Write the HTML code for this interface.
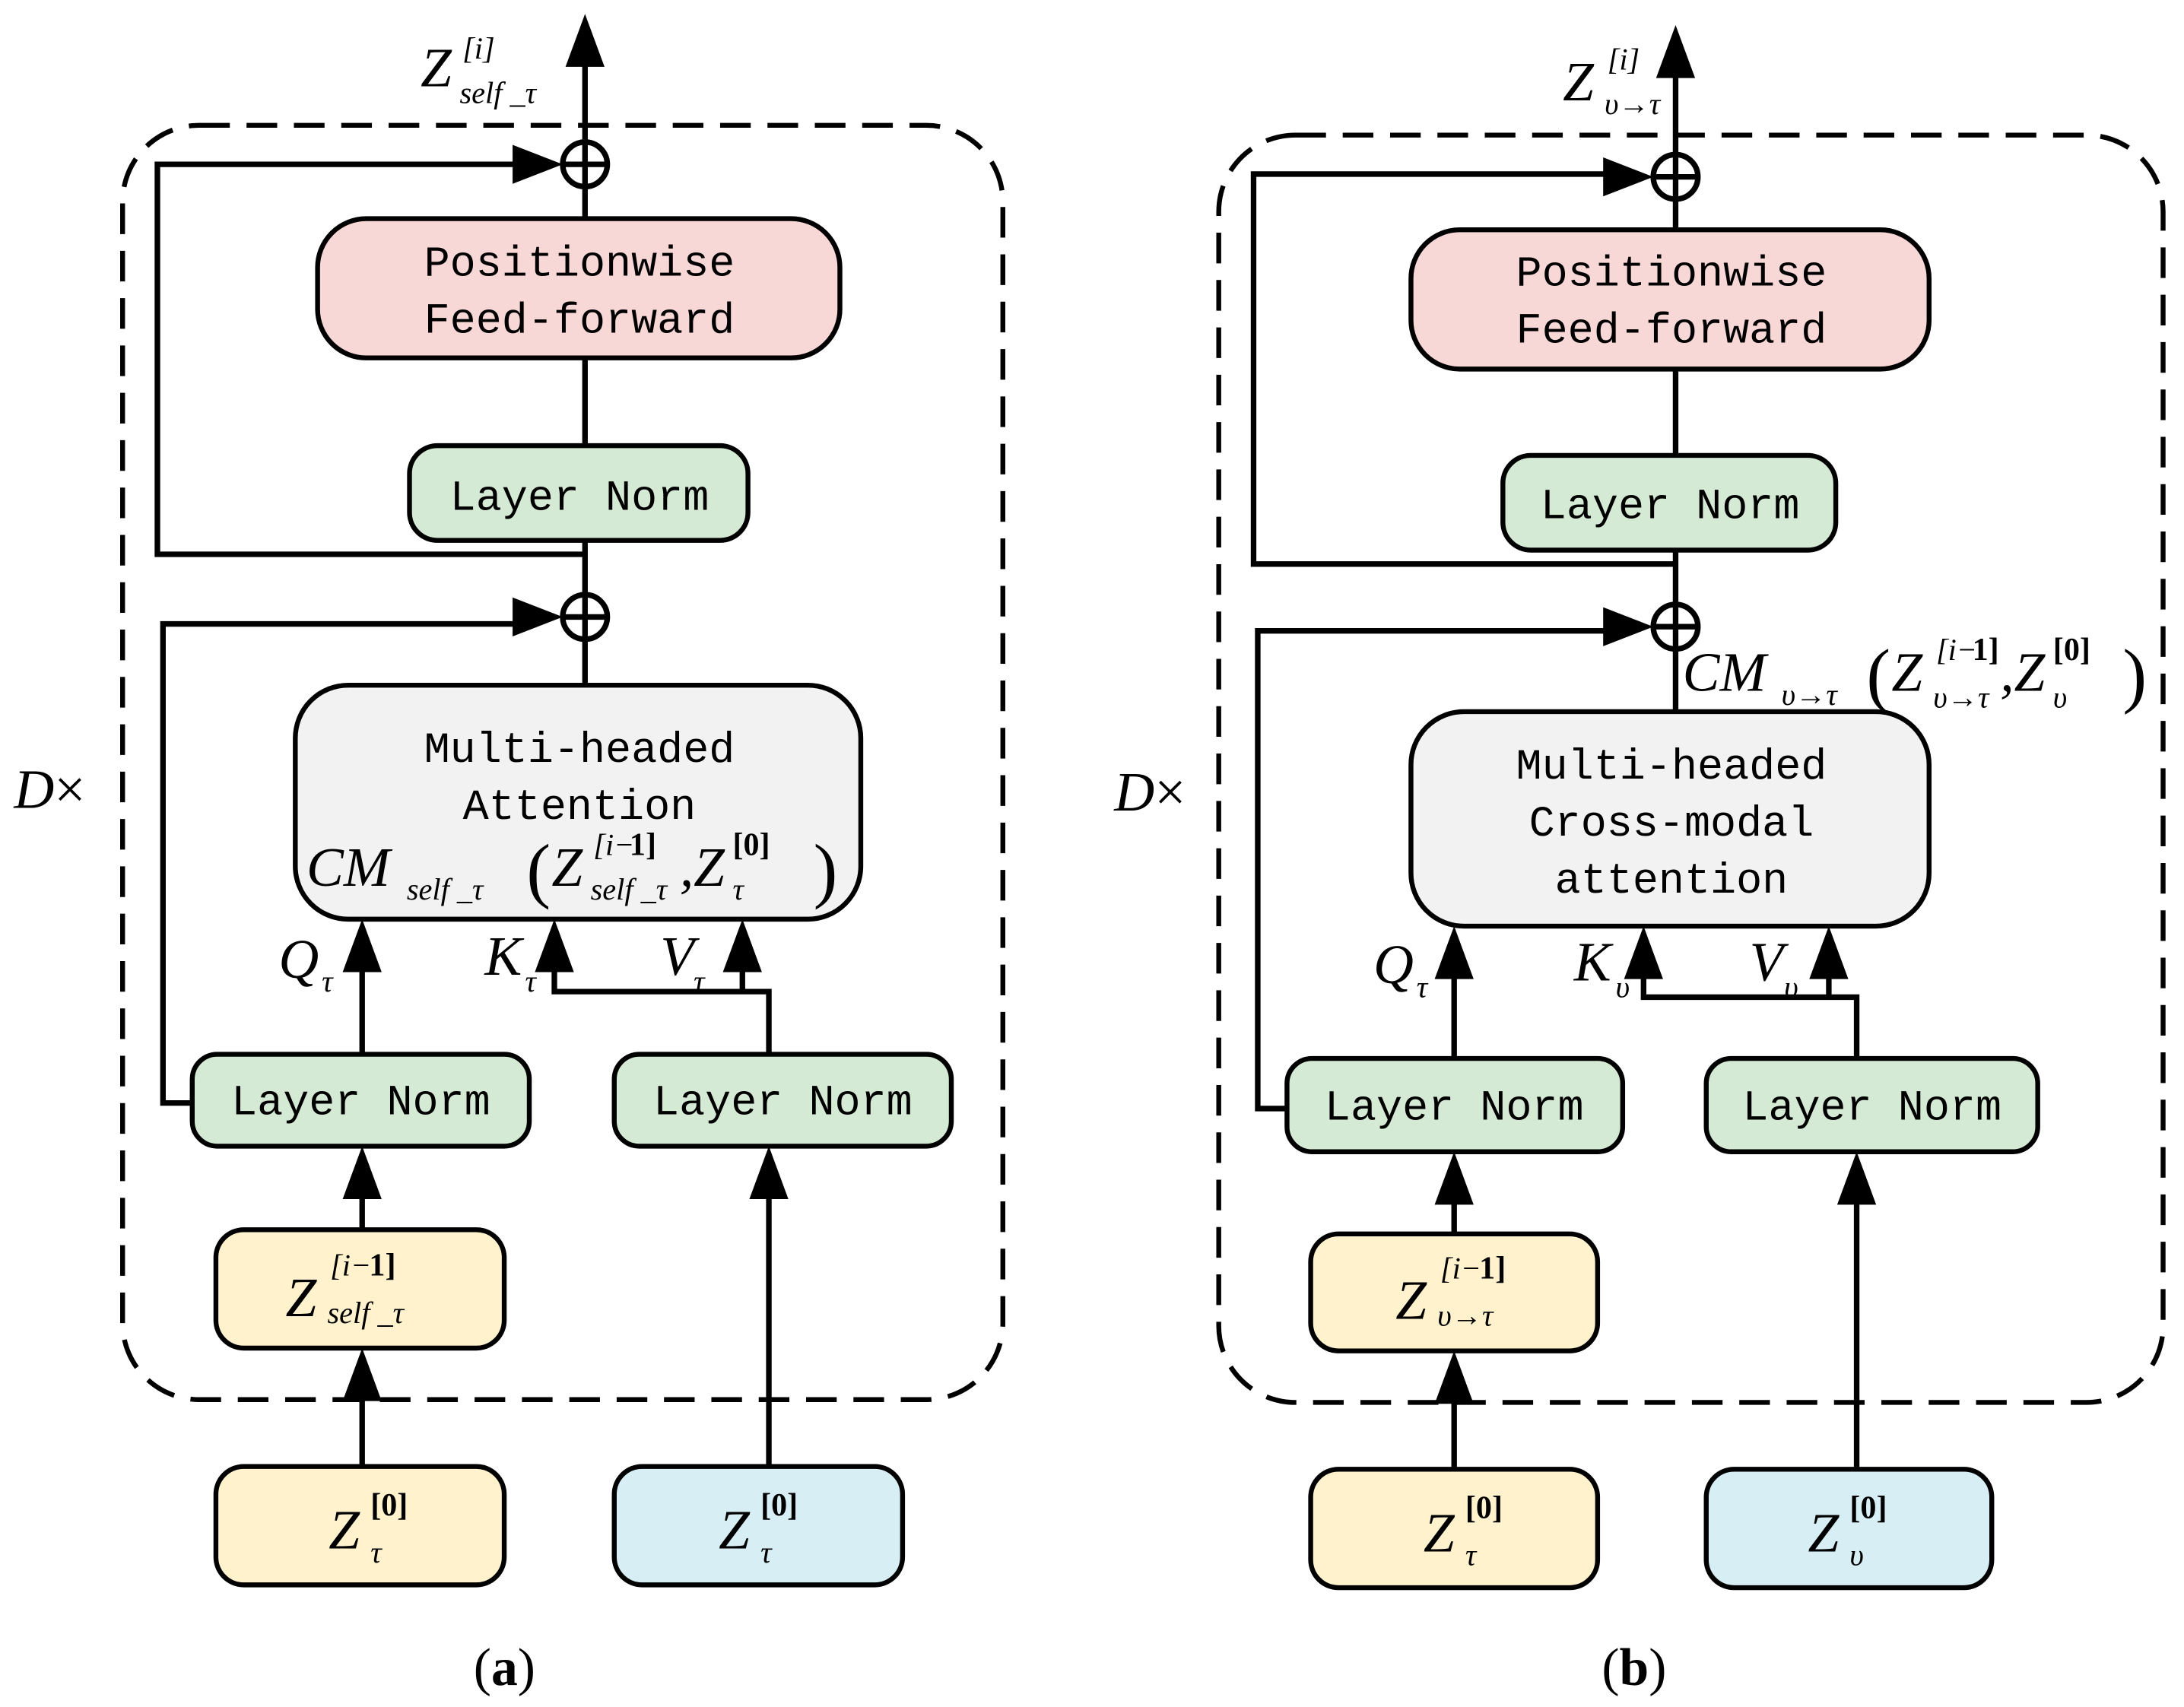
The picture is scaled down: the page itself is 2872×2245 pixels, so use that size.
<!DOCTYPE html>
<html><head><meta charset="utf-8"><style>
html,body{margin:0;padding:0;background:#fff}
svg{display:block}
.m{font-family:"Liberation Mono","DejaVu Sans Mono",monospace;font-size:31px;fill:#000}
.i{font-family:"Liberation Serif",serif;font-style:italic;fill:#000;font-size:40px}
.s{font-family:"Liberation Serif",serif;font-style:italic;fill:#000;font-size:22px}
.b{font-family:"Liberation Serif",serif;font-weight:bold;fill:#000;font-size:23px}
.p{font-family:"Liberation Serif",serif;fill:#000;font-size:52px}
.r{font-family:"Liberation Serif",serif;fill:#000}
</style></head><body>
<svg width="2872" height="2245" viewBox="0 0 1568 1225.7" xmlns="http://www.w3.org/2000/svg">
<g fill="none" stroke="#000" stroke-width="4">
<rect x="88" y="90" width="632" height="915" rx="55" stroke-dasharray="22,12" stroke-width="3.5"/>
<line x1="420" y1="102" x2="420" y2="30"/>
<circle cx="420" cy="118" r="16"/><line x1="404" y1="118" x2="436" y2="118"/><line x1="420" y1="102" x2="420" y2="134"/>
<polyline points="420,398 113,398 113,118 380,118"/>
<line x1="420" y1="134" x2="420" y2="157"/><line x1="420" y1="257" x2="420" y2="320"/><line x1="420" y1="388" x2="420" y2="427"/>
<circle cx="420" cy="443" r="16"/><line x1="404" y1="443" x2="436" y2="443"/><line x1="420" y1="427" x2="420" y2="459"/>
<polyline points="138,792 117,792 117,448 380,448"/>
<line x1="420" y1="459" x2="420" y2="492"/>
<line x1="260" y1="757" x2="260" y2="680"/>
<polyline points="552,757 552,712 398,712 398,680"/>
<line x1="533" y1="712" x2="533" y2="680"/>
<line x1="260" y1="883" x2="260" y2="843"/>
<line x1="260" y1="1053" x2="260" y2="988"/>
<line x1="552" y1="1053" x2="552" y2="843"/>
<rect x="875" y="97" width="678" height="910" rx="55" stroke-dasharray="22,12" stroke-width="3.5"/>
<line x1="1203" y1="111" x2="1203" y2="38"/>
<circle cx="1203" cy="127" r="16"/><line x1="1187" y1="127" x2="1219" y2="127"/><line x1="1203" y1="111" x2="1203" y2="143"/>
<polyline points="1203,405 900,405 900,125 1165,125"/>
<line x1="1203" y1="143" x2="1203" y2="165"/><line x1="1203" y1="265" x2="1203" y2="327"/><line x1="1203" y1="395" x2="1203" y2="434"/>
<circle cx="1203" cy="450" r="16"/><line x1="1187" y1="450" x2="1219" y2="450"/><line x1="1203" y1="434" x2="1203" y2="466"/>
<polyline points="924,796 903,796 903,453 1165,453"/>
<line x1="1203" y1="466" x2="1203" y2="511"/>
<line x1="1044" y1="760" x2="1044" y2="685"/>
<polyline points="1333,760 1333,716 1180,716 1180,685"/>
<line x1="1313" y1="716" x2="1313" y2="685"/>
<line x1="1044" y1="886" x2="1044" y2="847"/>
<line x1="1044" y1="1055" x2="1044" y2="990"/>
<line x1="1333" y1="1055" x2="1333" y2="847"/>
</g>
<g fill="#000">
<polygon points="406,48 420,10 434,48"/>
<polygon points="368,104 404,118 368,132"/>
<polygon points="368,429 404,443 368,457"/>
<polygon points="246,698 260,660 274,698"/>
<polygon points="384,698 398,660 412,698"/>
<polygon points="519,698 533,660 547,698"/>
<polygon points="246,861 260,823 274,861"/>
<polygon points="246,1006 260,968 274,1006"/>
<polygon points="538,861 552,823 566,861"/>
<polygon points="1189,56 1203,18 1217,56"/>
<polygon points="1151,113 1187,127 1151,141"/>
<polygon points="1151,436 1187,450 1151,464"/>
<polygon points="1030,703 1044,665 1058,703"/>
<polygon points="1166,703 1180,665 1194,703"/>
<polygon points="1299,703 1313,665 1327,703"/>
<polygon points="1030,865 1044,827 1058,865"/>
<polygon points="1030,1008 1044,970 1058,1008"/>
<polygon points="1319,865 1333,827 1347,865"/>
</g>
<g stroke="#000" stroke-width="3.5">
<rect x="228" y="157" width="375" height="100" rx="35" fill="#f8d7d7"/>
<rect x="294" y="320" width="243" height="68" rx="20" fill="#d5ead5"/>
<rect x="212" y="492" width="406" height="168" rx="38" fill="#f2f2f2"/>
<rect x="138" y="757" width="242" height="66" rx="18" fill="#d5ead5"/>
<rect x="441" y="757" width="242" height="66" rx="18" fill="#d5ead5"/>
<rect x="155" y="883" width="207" height="85" rx="20" fill="#fff2cc"/>
<rect x="155" y="1053" width="207" height="85" rx="20" fill="#fff2cc"/>
<rect x="441" y="1053" width="207" height="85" rx="20" fill="#d6eef4"/>
<rect x="1013" y="165" width="372" height="100" rx="35" fill="#f8d7d7"/>
<rect x="1079" y="327" width="239" height="68" rx="20" fill="#d5ead5"/>
<rect x="1013" y="511" width="372" height="154" rx="38" fill="#f2f2f2"/>
<rect x="924" y="760" width="241" height="67" rx="18" fill="#d5ead5"/>
<rect x="1225" y="760" width="238" height="67" rx="18" fill="#d5ead5"/>
<rect x="941" y="886" width="206" height="84" rx="20" fill="#fff2cc"/>
<rect x="941" y="1055" width="206" height="85" rx="20" fill="#fff2cc"/>
<rect x="1225" y="1055" width="205" height="85" rx="20" fill="#d6eef4"/>
</g>
<text class="m" x="416" y="198" text-anchor="middle">Positionwise</text>
<text class="m" x="416" y="239" text-anchor="middle">Feed-forward</text>
<text class="m" x="416" y="366" text-anchor="middle">Layer Norm</text>
<text class="m" x="416" y="547" text-anchor="middle">Multi-headed</text>
<text class="m" x="416" y="588" text-anchor="middle">Attention</text>
<text class="m" x="259" y="800" text-anchor="middle">Layer Norm</text>
<text class="m" x="562" y="800" text-anchor="middle">Layer Norm</text>
<text class="m" x="1200" y="205" text-anchor="middle">Positionwise</text>
<text class="m" x="1200" y="246" text-anchor="middle">Feed-forward</text>
<text class="m" x="1199" y="372" text-anchor="middle">Layer Norm</text>
<text class="m" x="1200" y="559" text-anchor="middle">Multi-headed</text>
<text class="m" x="1200" y="600" text-anchor="middle">Cross-modal</text>
<text class="m" x="1200" y="641" text-anchor="middle">attention</text>
<text class="m" x="1044" y="804" text-anchor="middle">Layer Norm</text>
<text class="m" x="1344" y="804" text-anchor="middle">Layer Norm</text>

<!-- a labels -->
<text class="i" x="302" y="62">Z</text><text class="s" x="332" y="42">[i]</text><text class="s" x="330" y="74">self _τ</text>
<text class="i" x="220" y="636">CM</text><text class="s" x="292" y="646">self _τ</text>
<text class="p" x="378" y="642">(</text>
<text class="i" x="396" y="636">Z</text><text class="s" x="426" y="614">[i−</text><text class="b" x="452" y="614">1]</text><text class="s" x="424" y="646">self _τ</text>
<text class="i" x="488" y="636">,Z</text><text class="b" x="526" y="614">[0]</text><text class="s" x="526" y="646">τ</text>
<text class="p" x="584" y="642">)</text>
<text class="i" x="200" y="702">Q</text><text class="s" x="231" y="712">τ</text>
<text class="i" x="348" y="700">K</text><text class="s" x="377" y="712">τ</text>
<text class="i" x="474" y="700">V</text><text class="s" x="498" y="712">τ</text>
<text class="i" x="205" y="945">Z</text><text class="s" x="237" y="916">[i−</text><text class="b" x="265" y="916">1]</text><text class="s" x="235" y="950">self _τ</text>
<text class="i" x="236" y="1112">Z</text><text class="b" x="266" y="1088">[0]</text><text class="s" x="266" y="1122">τ</text>
<text class="i" x="516" y="1112">Z</text><text class="b" x="546" y="1088">[0]</text><text class="s" x="546" y="1122">τ</text>
<text class="i" x="10" y="580" font-size="38">D<tspan font-style="normal">×</tspan></text>
<text class="r" x="340" y="1210" font-size="38">(<tspan font-weight="bold">a</tspan>)</text>

<!-- b labels -->
<text class="i" x="1122" y="72">Z</text><text class="s" x="1154" y="50">[i]</text><text class="s" x="1152" y="82">υ→τ</text>
<text class="i" x="1208" y="496">CM</text><text class="s" x="1279" y="506">υ→τ</text>
<text class="p" x="1340" y="502">(</text>
<text class="i" x="1358" y="496">Z</text><text class="s" x="1390" y="474">[i−</text><text class="b" x="1416" y="474">1]</text><text class="s" x="1388" y="508">υ→τ</text>
<text class="i" x="1436" y="496">,Z</text><text class="b" x="1474" y="474">[0]</text><text class="s" x="1474" y="508">υ</text>
<text class="p" x="1524" y="502">)</text>
<text class="i" x="986" y="706">Q</text><text class="s" x="1017" y="716">τ</text>
<text class="i" x="1130" y="704">K</text><text class="s" x="1160" y="716">υ</text>
<text class="i" x="1256" y="704">V</text><text class="s" x="1281" y="716">υ</text>
<text class="i" x="1002" y="947">Z</text><text class="s" x="1034" y="918">[i−</text><text class="b" x="1062" y="918">1]</text><text class="s" x="1032" y="952">υ→τ</text>
<text class="i" x="1022" y="1114">Z</text><text class="b" x="1052" y="1090">[0]</text><text class="s" x="1052" y="1124">τ</text>
<text class="i" x="1298" y="1114">Z</text><text class="b" x="1328" y="1090">[0]</text><text class="s" x="1328" y="1124">υ</text>
<text class="i" x="800" y="582" font-size="38">D<tspan font-style="normal">×</tspan></text>
<text class="r" x="1150" y="1210" font-size="38">(<tspan font-weight="bold">b</tspan>)</text>
</svg>
</body></html>
